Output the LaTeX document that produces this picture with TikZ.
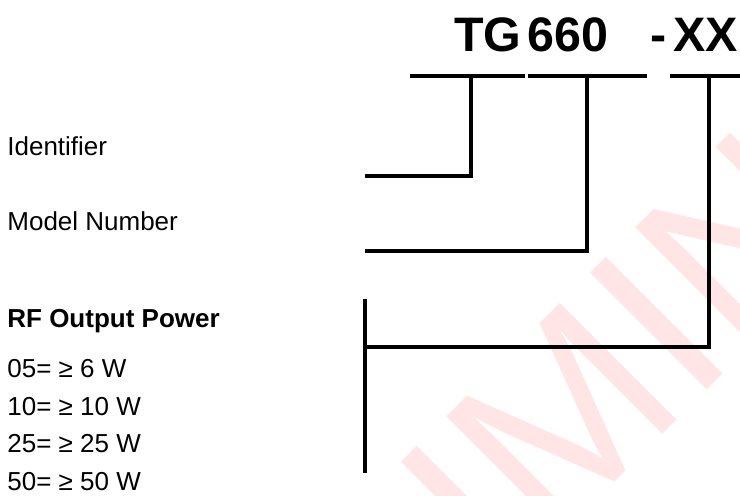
\documentclass[tikz,border=0pt]{standalone}
\usepackage{fontspec}
\setmainfont{Liberation Sans}
\definecolor{stamppink}{RGB}{255,229,229}
\tikzset{
  codetext/.style={inner sep=0pt, anchor=base west, font=\fontsize{24.2}{29}\selectfont\bfseries},
  desc/.style={inner sep=0pt, anchor=base west, font=\fontsize{13}{15.6}\selectfont},
  descbold/.style={desc, font=\fontsize{13}{15.6}\selectfont\bfseries},
  stamp/.style={inner sep=0pt, anchor=base, rotate=45, text=stamppink, font=\fontsize{120}{144}\selectfont},
  leader/.style={line width=2pt}
}
\begin{document}
\begin{tikzpicture}[x=0.5pt, y=0.5pt]
        \useasboundingbox (0,0) rectangle (740,-496);

        % Watermark
        \begin{scope}
            \clip (0,0) rectangle (740,-496);
            \node[stamp] (stamp) at (633,-464) {PRELIMINARY};
        \end{scope}

        % 1. Part number
        \node[codetext] (tgcode) at (454,-52) {TG};
        \node[codetext] (modelcode) at (527.5,-52) {660};
        \node[codetext] (dashsign) at (650,-52) {-};
        \node[codetext] (powercode) at (673,-52) {XX};

        % Bars under the code
        \coordinate (idbarL) at (410,-76);  \coordinate (idbarR) at (525,-76);
        \coordinate (modbarL) at (528,-76); \coordinate (modbarR) at (647,-76);
        \coordinate (pwrbarL) at (670,-76); \coordinate (pwrbarR) at (740,-76);
        \draw[leader] (idbarL) -- (idbarR);
        \draw[leader] (modbarL) -- (modbarR);
        \draw[leader] (pwrbarL) -- (pwrbarR);

        % 2. Descriptions
        \node[desc] (ident) at (7,-156) {Identifier};
        \node[desc] (modelno) at (7,-231) {Model Number};
        \node[descbold] (rfpower) at (7,-328) {RF Output Power};
        \node[desc] (pw05) at (7,-378) {05= ≥ 6 W};
        \node[desc] (pw10) at (7,-415.5) {10= ≥ 10 W};
        \node[desc] (pw25) at (7,-453) {25= ≥ 25 W};
        \node[desc] (pw50) at (7,-490.5) {50= ≥ 50 W};

        % 3. Leaders from the code to the descriptions
        \coordinate (idtap) at (471,-76);  \coordinate (idend) at (365,-176);
        \coordinate (modtap) at (587,-76); \coordinate (modend) at (365,-251);
        \coordinate (pwrtap) at (709,-76); \coordinate (pwrend) at (365,-347);
        \coordinate (braceT) at (365,-299); \coordinate (braceB) at (365,-473);
        \draw[leader] (idtap) |- (idend);
        \draw[leader] (modtap) |- (modend);
        \draw[leader] (pwrtap) |- (pwrend);
        \draw[leader] (braceT) -- (braceB);
    \end{tikzpicture}
\end{document}
